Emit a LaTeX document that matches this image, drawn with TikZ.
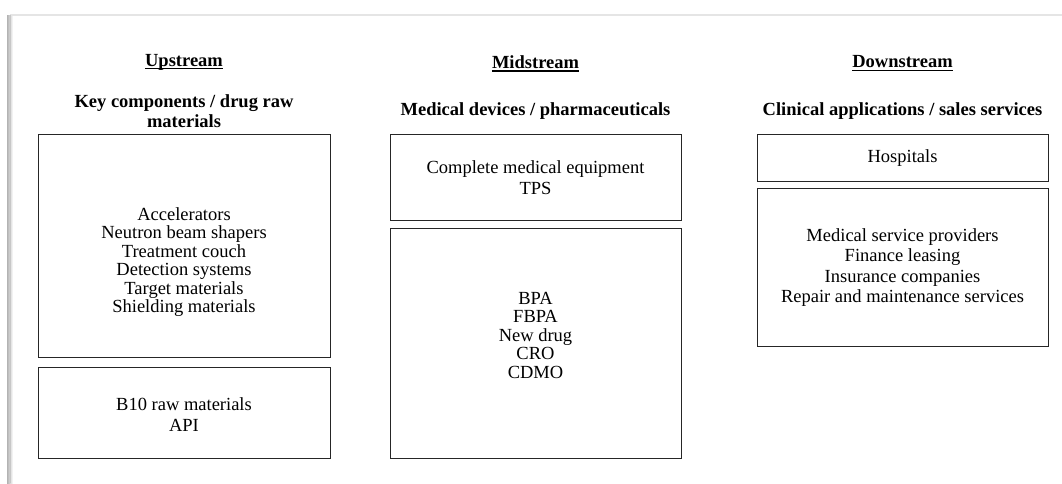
\documentclass[tikz,border=0pt]{standalone}
\usepackage{fontspec}
\setmainfont{Liberation Serif}
\begin{document}
\begin{tikzpicture}[x=1pt,y=-1pt,
  box/.style={draw=black!85, line width=1.3pt, inner sep=0pt, anchor=north west},
  body/.style={align=center, font=\fontsize{18.5}{20.5}\selectfont, inner sep=0pt},
  tight/.style={font=\fontsize{18.5}{18.5}\selectfont},
  head/.style={align=center, font=\fontsize{18.5}{20.5}\selectfont\bfseries, inner sep=0pt},
  uline/.style={line width=1.4pt, black}]
\useasboundingbox (0,0) rectangle (1062,483);
% page frame with shadow
\shade[left color=black!30, right color=white] (7,15) rectangle (13,483);
\draw[black!10, line width=1.5pt] (10,15) -- (1062,15);
\draw[black!22, line width=0.8pt] (10,15) -- (10,483);
% headings
\node[head] (uh) at (184,62) {Upstream};
\node[head] (mh) at (535.5,62) {Midstream};
\node[head] (dh) at (902.5,62) {Downstream};
\draw[uline] ([yshift=-2.5pt]uh.base west) -- ([yshift=-2.5pt]uh.base east);
\draw[uline] ([yshift=-2.5pt]mh.base west) -- ([yshift=-2.5pt]mh.base east);
\draw[uline] ([yshift=-2.5pt]dh.base west) -- ([yshift=-2.5pt]dh.base east);
\node[head] (us) at (184,111) {Key components / drug raw\\materials};
\node[head] (ms) at (535.5,111.5) {Medical devices / pharmaceuticals};
\node[head] (ds) at (902.5,111.5) {Clinical applications / sales services};
% boxes
\node[box, minimum width=292pt, minimum height=223pt] (u1) at (38,134) {};
\node[box, minimum width=292pt, minimum height=91pt] (u2) at (38,367) {};
\node[box, minimum width=291pt, minimum height=86pt] (m1) at (390,134) {};
\node[box, minimum width=291pt, minimum height=230pt] (m2) at (390,228) {};
\node[box, minimum width=291pt, minimum height=47pt] (d1) at (757,134) {};
\node[box, minimum width=291pt, minimum height=158pt] (d2) at (757,187.5) {};
% box texts
\node[body, tight] (u1t) at (184,262) {Accelerators\\Neutron beam shapers\\Treatment couch\\Detection systems\\Target materials\\Shielding materials};
\node[body] (u2t) at (184,414.5) {B10 raw materials\\API};
\node[body] (m1t) at (535.5,177.5) {Complete medical equipment\\TPS};
\node[body, tight] (m2t) at (535.5,335) {BPA\\FBPA\\New drug\\CRO\\CDMO};
\node[body] (d1t) at (902.5,158) {Hospitals};
\node[body] (d2t) at (902.5,267.5) {Medical service providers\\Finance leasing\\Insurance companies\\Repair and maintenance services};
\end{tikzpicture}
\end{document}
